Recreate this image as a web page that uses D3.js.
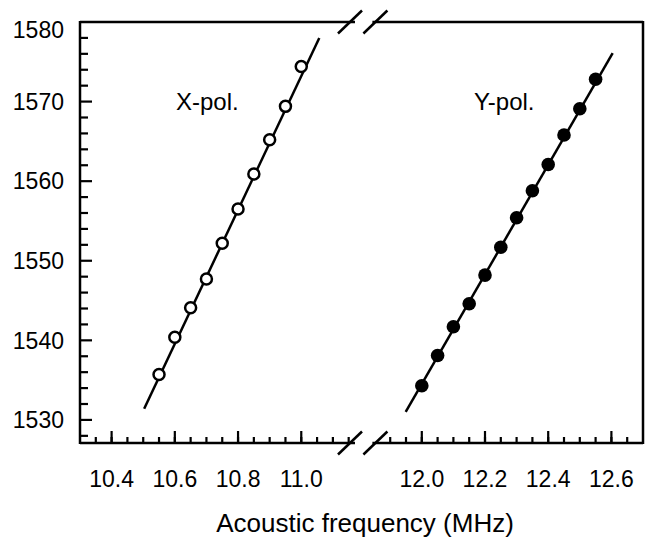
<!DOCTYPE html>
<html lang="en">
  <head>
    <meta charset="UTF-8" />
    <title>Acoustic frequency vs wavelength</title>
    <script src="https://d3js.org/d3.v7.min.js"></script>
    <style>
      body { margin: 0; background: #fff; }
      text { font-family: "Liberation Sans", Arial, sans-serif; fill: #000; }
      .frame { stroke: #000; stroke-width: 2.5px; fill: none; }
      .fit { stroke: #000; stroke-width: 2.5px; fill: none; }
    </style>
  </head>
  <body>
    <svg id="chart" width="647" height="539"></svg>
    <script>
      // measured points, X polarisation (open circles)
      const xpolFreq = [10.55, 10.60, 10.65, 10.70, 10.75, 10.80, 10.85, 10.90, 10.95, 11.00];
      const xpolVals = [1535.7, 1540.4, 1544.1, 1547.7, 1552.2, 1556.5, 1560.9, 1565.2, 1569.4, 1574.4];
      // Y polarisation (filled circles)
      const ypolFreq = [12.00, 12.05, 12.10, 12.15, 12.20, 12.25, 12.30, 12.35, 12.40, 12.45, 12.50, 12.55];
      const ypolVals = [1534.3, 1538.1, 1541.7, 1544.6, 1548.2, 1551.7, 1555.4, 1558.8, 1562.1, 1565.8, 1569.1, 1572.8];
      // fitted straight lines (end points)
      const xpolFitFreq = [10.503, 11.057];
      const xpolFitVals = [1531.4, 1578.0];
      const ypolFitFreq = [11.949, 12.604];
      const ypolFitVals = [1531.0, 1576.1];

      const leftTicks = [10.4, 10.6, 10.8, 11.0];
      const rightTicks = [12.0, 12.2, 12.4, 12.6];
      const leftMinor = d3.range(10.35, 11.16, 0.05);
      const rightMinor = d3.range(11.9, 12.66, 0.05);
      const yTicks = [1530, 1540, 1550, 1560, 1570, 1580];
      const yMinor = d3.range(1528, 1580, 2);

      const svg = d3.select("#chart");
      const pLeft = 80, pRight = 643, pTop = 22, pBottom = 443;

      // broken x axis: two linear pieces
      const xLeft = d3.scaleLinear().domain([10.3, 11.17]).range([pLeft, 355]);
      const xRight = d3.scaleLinear().domain([11.85, 12.7]).range([374.4, pRight]);
      const y = d3.scaleLinear().domain([1527.1, 1580]).range([pBottom, pTop]);

      const gapL = xLeft.range()[1], gapR = xRight.range()[0];

      // frame
      const frame = svg.append("g");
      frame.append("line").attr("class", "frame")
        .attr("x1", pLeft).attr("x2", pLeft).attr("y1", pTop - 1).attr("y2", pBottom + 1);
      frame.append("line").attr("class", "frame")
        .attr("x1", pRight).attr("x2", pRight).attr("y1", pTop - 1).attr("y2", pBottom + 1);
      [pTop, pBottom].forEach((yy) => {
        frame.append("line").attr("class", "frame")
          .attr("x1", pLeft).attr("x2", gapL).attr("y1", yy).attr("y2", yy);
        frame.append("line").attr("class", "frame")
          .attr("x1", gapR - 2).attr("x2", pRight).attr("y1", yy).attr("y2", yy);
        // break marks
        [gapL - 5, gapR + 1].forEach((cx) => {
          frame.append("line").attr("class", "frame")
            .attr("x1", cx - 12).attr("y1", yy + 11.5)
            .attr("x2", cx + 12).attr("y2", yy - 11.5);
        });
      });

      // x ticks (inward)
      const xt = svg.append("g");
      const tickX = (scale, vals, len) => {
        xt.selectAll(null).data(vals).enter().append("line")
          .attr("x1", (d) => scale(d)).attr("x2", (d) => scale(d))
          .attr("y1", pBottom).attr("y2", pBottom - len)
          .attr("stroke", "#000").attr("stroke-width", 2.2);
      };
      tickX(xLeft, leftMinor, 6);
      tickX(xRight, rightMinor, 6);
      tickX(xLeft, leftTicks, 12);
      tickX(xRight, rightTicks, 12);

      const xLabels = leftTicks.map((d) => [xLeft(d), d]).concat(rightTicks.map((d) => [xRight(d), d]));
      xt.selectAll(null).data(xLabels).enter().append("text")
        .attr("x", (d) => d[0]).attr("y", pBottom + 44)
        .attr("text-anchor", "middle").style("font-size", "23px")
        .text((d) => d3.format(".1f")(d[1]));

      // y ticks (inward)
      const yt = svg.append("g");
      yt.selectAll(null).data(yMinor).enter().append("line")
        .attr("x1", pLeft).attr("x2", (d) => pLeft + (d % 10 === 0 ? 12 : 8))
        .attr("y1", (d) => y(d)).attr("y2", (d) => y(d))
        .attr("stroke", "#000").attr("stroke-width", 2.2);
      yt.selectAll(null).data(yTicks).enter().append("text")
        .attr("x", 64).attr("y", (d) => y(d) + (d === 1580 ? 8 : 0))
        .attr("dy", "0.36em").attr("text-anchor", "end").style("font-size", "23px")
        .text((d) => d);

      // axis title
      svg.append("text").attr("x", 365).attr("y", 532)
        .attr("text-anchor", "middle").style("font-size", "26px")
        .text("Acoustic frequency (MHz)");

      // fitted lines
      const line = d3.line().x((d) => d.sx).y((d) => y(d.v));
      const xFit = xpolFitFreq.map((f, i) => ({ sx: xLeft(f), v: xpolFitVals[i] }));
      const yFit = ypolFitFreq.map((f, i) => ({ sx: xRight(f), v: ypolFitVals[i] }));
      svg.append("path").datum(xFit).attr("class", "fit").attr("d", line);
      svg.append("path").datum(yFit).attr("class", "fit").attr("d", line);

      // points
      svg.append("g").selectAll("circle")
        .data(xpolFreq.map((f, i) => [f, xpolVals[i]])).enter().append("circle")
        .attr("cx", (d) => xLeft(d[0])).attr("cy", (d) => y(d[1])).attr("r", 5.5)
        .attr("fill", "#fff").attr("stroke", "#000").attr("stroke-width", 2.5);
      svg.append("g").selectAll("circle")
        .data(ypolFreq.map((f, i) => [f, ypolVals[i]])).enter().append("circle")
        .attr("cx", (d) => xRight(d[0])).attr("cy", (d) => y(d[1])).attr("r", 6.8)
        .attr("fill", "#000");

      // series labels
      svg.append("text").attr("x", 176).attr("y", 110).style("font-size", "24px").text("X-pol.");
      svg.append("text").attr("x", 474).attr("y", 110).style("font-size", "24px").text("Y-pol.");
    </script>
  </body>
</html>
